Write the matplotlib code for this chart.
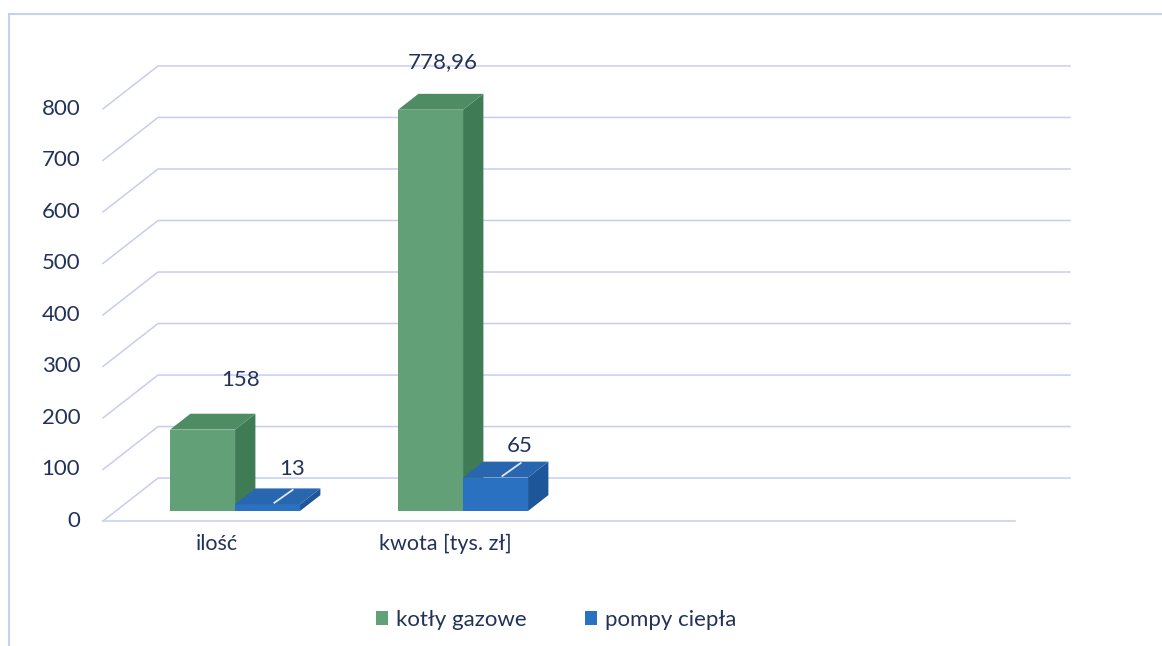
import matplotlib
matplotlib.use('Agg')
import matplotlib.pyplot as plt
from matplotlib.patches import Polygon, Patch, Rectangle

# dane z wykresu
categories = ['ilość', 'kwota [tys. zł]', '', '']
series_names = ['kotły gazowe', 'pompy ciepła']
kotly = [158, 778.96, None, None]
pompy = [13, 65, None, None]
value_labels = [['158', '778,96'], ['13', '65']]
y_ticks = [0, 100, 200, 300, 400, 500, 600, 700, 800]

plt.rcParams['font.family'] = ['Lato', 'DejaVu Sans']
text_color = '#22325a'
grid_color = '#c8cdef'

# kolory scian slupkow: przod, bok, gora
face_colors = [('#62a077', '#3f7c55', '#4e8c63'),
               ('#2a71c2', '#1d5799', '#2866b0')]

W, H = 1162, 646
fig = plt.figure(figsize=(W / 100, H / 100), dpi=100)
ax = fig.add_axes([103 / W, (H - 521) / H, 912 / W, 459 / H])
ax.set_xlim(-0.5, 3.5)
ax.set_ylim(0, 891)
ax.axis('off')

# glebokosc 3D w jednostkach danych
depth_x = 55 / 228
depth_y = 43 / 0.516
bar_start = 0.233   # gdzie zaczyna sie slupek w glebi
bar_depth = 0.37
bar_w = 0.285
shifts = [-0.262, 0.023]

# siatka: ukosna linia + pozioma na tylnej scianie
for v in y_ticks:
    ax.plot([-0.5, -0.5 + depth_x, 3.5 + depth_x], [v, v + depth_y, v + depth_y],
            color=grid_color, lw=1.1, clip_on=False, zorder=1)
    ax.text(-0.5 - 0.1, v, str(v), ha='right', va='center', fontsize=16, color=text_color)
ax.plot([-0.5, 3.5], [0, 0], color=grid_color, lw=1.1, clip_on=False, zorder=1)

# etykiety kategorii
for i, c in enumerate(categories):
    ax.text(i, -45, c, ha='center', va='center', fontsize=15.5, color=text_color)

label_offsets = [[(38, 50), (12, 48)], [(25, 35), (24, 32)]]

# slupki 3D
for s, vals in enumerate([kotly, pompy]):
    front, side, top = face_colors[s]
    for i, v in enumerate(vals):
        if v is None:
            continue
        x0 = i + shifts[s] + bar_start * depth_x
        x1 = x0 + bar_w
        y0 = bar_start * depth_y
        y1 = y0 + v
        ddx = bar_depth * depth_x
        ddy = bar_depth * depth_y
        ax.add_patch(Polygon([(x0, y0), (x1, y0), (x1, y1), (x0, y1)], closed=True,
                             facecolor=front, edgecolor='none', zorder=3, clip_on=False))
        ax.add_patch(Polygon([(x1, y0), (x1 + ddx, y0 + ddy), (x1 + ddx, y1 + ddy), (x1, y1)],
                             closed=True, facecolor=side, edgecolor='none', zorder=3, clip_on=False))
        ax.add_patch(Polygon([(x0, y1), (x1, y1), (x1 + ddx, y1 + ddy), (x0 + ddx, y1 + ddy)],
                             closed=True, facecolor=top, edgecolor='none', zorder=3, clip_on=False))
        xc = (x0 + x1) / 2
        if s == 1:
            # linia odniesienia etykiety
            ax.plot([xc + 0.03, xc + 0.11], [y1 + 3, y1 + 28], color='#dfe8f5', lw=1.3,
                    zorder=4, clip_on=False)
        ox, oy = label_offsets[s][i]
        ax.annotate(value_labels[s][i], (xc, y1), xytext=(ox, oy), textcoords='offset pixels',
                    ha='center', va='center', fontsize=16, color=text_color, zorder=5)

# legenda
handles = [Patch(facecolor=face_colors[k][0], edgecolor='none') for k in range(2)]
fig.legend(handles, series_names, loc='center', bbox_to_anchor=(556 / W, 1 - 620 / H),
           ncol=2, frameon=False, fontsize=16, handlelength=0.55, handleheight=0.55,
           handletextpad=0.35, columnspacing=2.6, labelcolor=text_color)

# ramka wykresu
fig.patches.append(Rectangle((9 / W, -0.1), 1.2, 1 - 14 / H + 0.1, transform=fig.transFigure,
                             facecolor='none', edgecolor='#c8d0ea', lw=1.5))

fig.savefig('out.png', dpi=100)
